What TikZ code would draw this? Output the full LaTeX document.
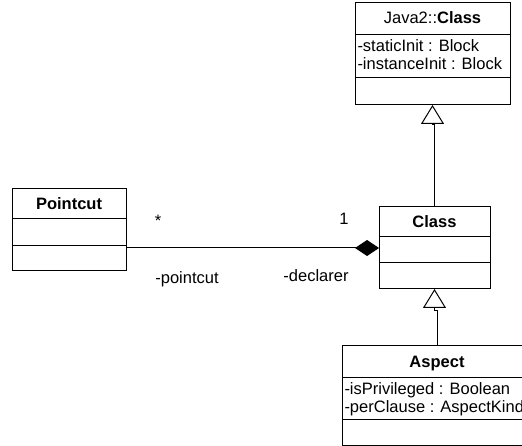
\documentclass[tikz,border=0pt]{standalone}
\usepackage{fontspec}
\setmainfont{Liberation Sans}
\usetikzlibrary{arrows.meta}
\begin{document}
\begin{tikzpicture}[x=1pt,y=-1pt,
  line width=1pt,
  every node/.style={font=\fontsize{16.5}{18}\selectfont},
  umlbox/.style={draw, rectangle, inner sep=0pt, outer sep=0pt, anchor=north west},
  titletext/.style={anchor=base, inner sep=0pt},
  attrtext/.style={anchor=base west, inner sep=0pt},
  rolelabel/.style={anchor=base, inner sep=0pt},
  gen/.style={-{Triangle[open, fill=white, length=19pt, width=23pt]}},
  comp/.style={{Diamond[fill=black, length=24pt, width=16pt]}-}]
\useasboundingbox (0,0) rectangle (522,446);
\clip (0,0) rectangle (522,446);

% Java2::Class
\node[umlbox, minimum width=155pt, minimum height=102pt] (java) at (355,3) {};
\draw (java.west |- 0,35) -- (java.east |- 0,35);
\draw (java.west |- 0,78) -- (java.east |- 0,78);
\node[titletext] (javaname) at (java.north |- 0,24) {Java2::\textbf{Class}};
\node[attrtext] (javaa) at (357,52) {-staticInit : Block};
\node[attrtext] (javab) at (357,70) {-instanceInit : Block};

% Pointcut
\node[umlbox, minimum width=114pt, minimum height=82pt] (pc) at (12,189) {};
\draw (pc.west |- 0,219) -- (pc.east |- 0,219);
\draw (pc.west |- 0,246) -- (pc.east |- 0,246);
\node[titletext] (pcname) at (pc.north |- 0,210) {\textbf{Pointcut}};

% Class
\node[umlbox, minimum width=111pt, minimum height=82pt] (cls) at (379,207) {};
\draw (cls.west |- 0,237) -- (cls.east |- 0,237);
\draw (cls.west |- 0,263) -- (cls.east |- 0,263);
\node[titletext] (clsname) at (cls.north |- 0,228) {\textbf{Class}};

% Aspect
\node[umlbox, minimum width=190pt, minimum height=100pt] (asp) at (342,345) {};
\draw (asp.west |- 0,377) -- (asp.east |- 0,377);
\draw (asp.west |- 0,419) -- (asp.east |- 0,419);
\node[titletext] (aspname) at (asp.north |- 0,367) {\textbf{Aspect}};
\node[attrtext] (aspa) at (344,394) {-isPrivileged : Boolean};
\node[attrtext] (aspb) at (344,412) {-perClause : AspectKind};

% generalizations
\coordinate (jogA) at (432.5,125);
\coordinate (jogB) at (434.5,311);
\draw[gen] (cls.north) |- (jogA) -- (java.south);
\draw[gen] (asp.north) |- (jogB) -- (cls.south);

% composition
\draw[comp] (cls.west) -- (pc.east |- cls.west);
\node[rolelabel] (mulpc) at (158,227) {*};
\node[rolelabel] (rolepc) at (187,284) {-pointcut};
\node[rolelabel] (mulcls) at (344,225) {1};
\node[rolelabel] (rolecls) at (316,282) {-declarer};
\end{tikzpicture}
\end{document}
